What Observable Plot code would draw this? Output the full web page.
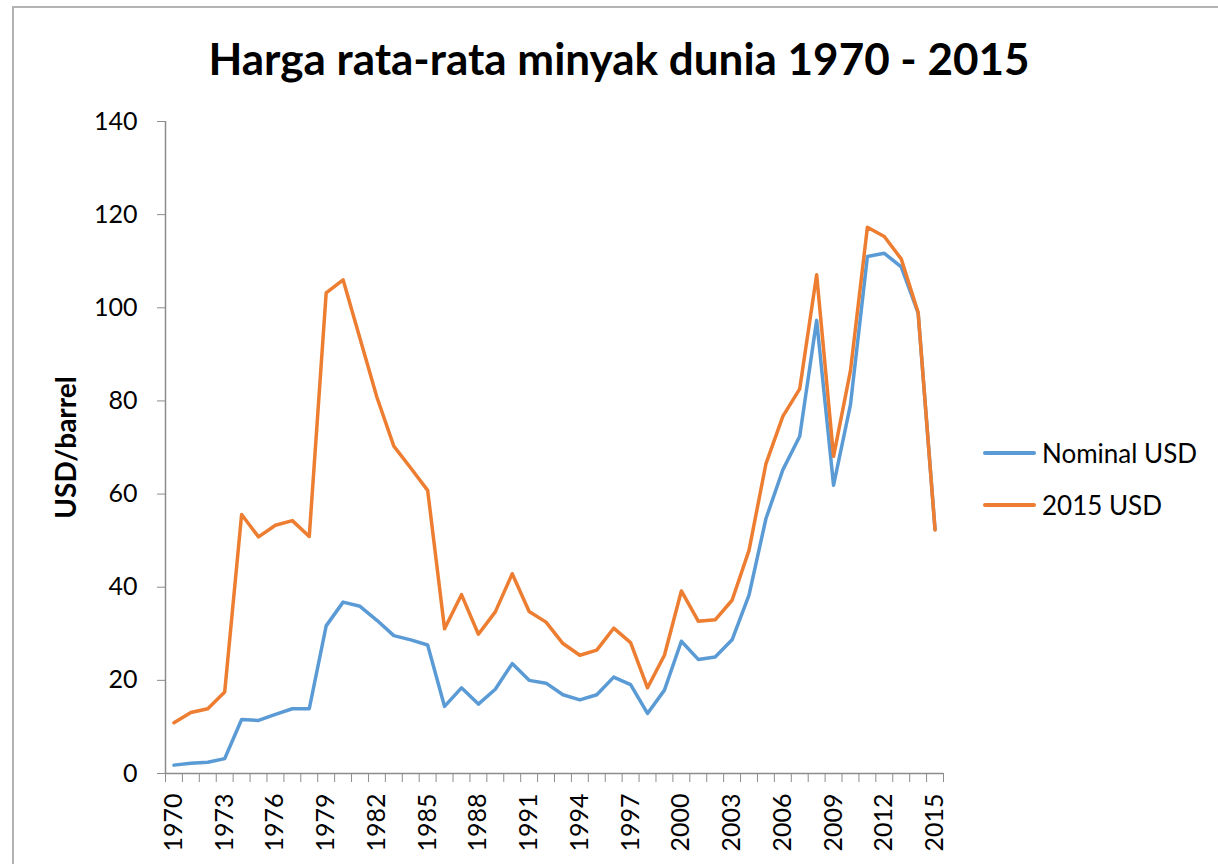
<!DOCTYPE html>
<html>
<head>
<meta charset="utf-8">
<script src="https://cdn.jsdelivr.net/npm/d3@7"></script>
<script src="https://cdn.jsdelivr.net/npm/@observablehq/plot@0.6"></script>
<style>
  html, body { margin: 0; padding: 0; background: #fff; overflow: hidden; }
  #wrap { position: relative; width: 1218px; height: 864px; overflow: hidden; font-family: Lato, "Open Sans", sans-serif; }
  #border { position: absolute; left: 12px; top: 6px; width: 1400px; height: 1000px; border: 2px solid #b3b3b3; box-sizing: border-box; }
  #title { position: absolute; left: 0; width: 1238px; top: 30px; text-align: center; font-weight: bold; font-size: 44px; line-height: 56px; color: #000; white-space: nowrap; }
  #chart { position: absolute; left: 0; top: 0; }
  .leg { position: absolute; left: 983px; display: flex; align-items: center; font-size: 26px; color: #000; height: 30px; }
  .leg .sw { width: 53px; height: 4px; border-radius: 2px; margin-right: 6px; }
</style>
</head>
<body>
<div id="wrap">
  <div id="border"></div>
  <div id="chart"></div>
  <div id="title"></div>
  <div id="legend"></div>
</div>
<script>
const chartTitle = "Harga rata-rata minyak dunia 1970 - 2015";
const yAxisLabel = "USD/barrel";
const seriesNames = ["Nominal USD", "2015 USD"];
const seriesColors = ["#5B9BD5", "#ED7D31"];
const years = d3.range(1970, 2016);
const nominalUSD = [
  1.8, 2.2, 2.4, 3.2, 11.6, 11.4, 12.7, 13.9, 13.9, 31.7,
  36.8, 35.9, 32.9, 29.6, 28.7, 27.6, 14.4, 18.4, 14.9, 18.1,
  23.6, 20.0, 19.4, 16.9, 15.8, 16.9, 20.7, 19.1, 12.9, 17.9,
  28.4, 24.5, 25.0, 28.7, 38.3, 54.7, 65.2, 72.4, 97.3, 61.9,
  79.2, 111.0, 111.7, 108.8, 98.9, 52.4
];
const realUSD2015 = [
  10.9, 13.1, 13.9, 17.5, 55.6, 50.8, 53.3, 54.3, 50.9, 103.2,
  106.0, 93.4, 80.8, 70.3, 65.6, 60.8, 31.1, 38.4, 29.9, 34.7,
  42.9, 34.8, 32.5, 27.9, 25.4, 26.5, 31.2, 28.1, 18.4, 25.4,
  39.2, 32.7, 33.0, 37.2, 47.9, 66.5, 76.7, 82.6, 107.1, 68.1,
  86.5, 117.3, 115.3, 110.5, 99.0, 52.3
];
const yTicks = [0, 20, 40, 60, 80, 100, 120, 140];
const xLabelYears = d3.range(1970, 2016, 3);

const data = [
  ...years.map((yr, i) => ({year: yr, value: nominalUSD[i], series: seriesNames[0]})),
  ...years.map((yr, i) => ({year: yr, value: realUSD2015[i], series: seriesNames[1]}))
];
const boundaries = d3.range(1969.5, 2016, 1);
const gray = "#8c8c8c";

const plot = Plot.plot({
  width: 1218,
  height: 864,
  marginTop: 121,
  marginBottom: 91,
  marginLeft: 165,
  marginRight: 275,
  style: {fontFamily: "Lato, 'Open Sans', sans-serif", background: "transparent", overflow: "visible"},
  x: {type: "linear", domain: [1969.5, 2015.5]},
  y: {domain: [0, 140]},
  color: {domain: seriesNames, range: seriesColors},
  marks: [
    Plot.ruleX([1969.5], {stroke: gray, strokeWidth: 1.5}),
    Plot.ruleY([0], {stroke: gray, strokeWidth: 1.5}),
    Plot.axisY(yTicks, {tickSize: 8, tickPadding: 20, fontSize: 25, stroke: gray, fill: "#000", label: null}),
    Plot.axisX(boundaries, {tickSize: 9, tickFormat: () => "", stroke: gray, label: null}),
    Plot.axisX(xLabelYears, {tickSize: 0, tickPadding: 20, tickRotate: -90, fontSize: 25, fill: "#000", label: null, tickFormat: d => String(d)}),
    Plot.text([yAxisLabel], {frameAnchor: "left", textAnchor: "middle", dx: -98, rotate: -90, fontSize: 28, fontWeight: "bold", fill: "#000"}),
    Plot.lineY(data.filter(d => d.series === seriesNames[0]), {x: "year", y: "value", stroke: "series", strokeWidth: 3.5}),
    Plot.lineY(data.filter(d => d.series === seriesNames[1]), {x: "year", y: "value", stroke: "series", strokeWidth: 3.5})
  ]
});
document.getElementById("chart").appendChild(plot);
document.getElementById("title").textContent = chartTitle;

const legend = document.getElementById("legend");
const legTops = [438, 490];
seriesNames.forEach((name, i) => {
  const row = document.createElement("div");
  row.className = "leg";
  row.style.top = legTops[i] + "px";
  const sw = document.createElement("div");
  sw.className = "sw";
  sw.style.background = seriesColors[i];
  const label = document.createElement("span");
  label.textContent = name;
  row.appendChild(sw);
  row.appendChild(label);
  legend.appendChild(row);
});
</script>
</body>
</html>
